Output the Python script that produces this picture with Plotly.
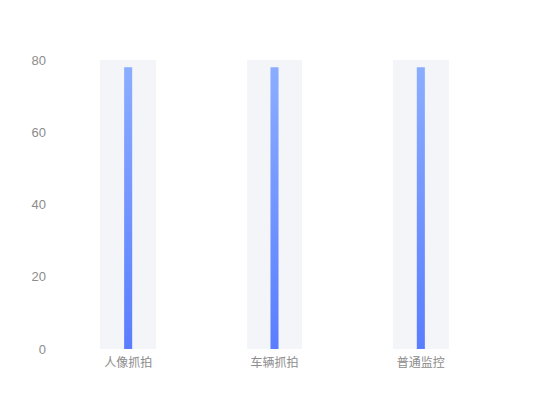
import plotly.graph_objects as go

categories = ['人像抓拍', '车辆抓拍', '普通监控']
values = [78, 78, 78]
max_value = 80

pos = list(range(len(categories)))
thin = 0.055 / 2

# gradient bars drawn as filled outlines around each value
xs, ys = [], []
for p, v in zip(pos, values):
    xs += [p - thin, p + thin, p + thin, p - thin, p - thin, None]
    ys += [0, 0, v, v, 0, None]

fig = go.Figure()

fig.add_trace(go.Bar(
    x=pos,
    y=[max_value] * len(categories),
    width=0.38,
    marker=dict(color='#f3f5f8', line=dict(width=0)),
    hoverinfo='skip',
    showlegend=False
))

fig.add_trace(go.Scatter(
    x=xs,
    y=ys,
    mode='lines',
    line=dict(width=0, color='rgba(0,0,0,0)'),
    fill='toself',
    fillgradient=dict(
        type='vertical',
        colorscale=[[0, '#5a7dff'], [1, '#8badff']]
    ),
    hoverinfo='skip',
    showlegend=False
))

fig.update_layout(
    width=550,
    height=420,
    margin=dict(l=47, r=64, t=52, b=79),
    paper_bgcolor='white',
    plot_bgcolor='white',
    font=dict(family='Noto Sans CJK SC', size=12, color='#8c8c8c'),
    xaxis=dict(
        range=[-0.5, 2.5],
        tickvals=pos,
        ticktext=categories,
        showgrid=False,
        zeroline=False,
        showline=False,
        ticks='',
        ticklabelstandoff=5,
        tickfont=dict(size=12, color='#8c8c8c')
    ),
    yaxis=dict(
        range=[0, max_value],
        tickvals=[0, 20, 40, 60, 80],
        showgrid=False,
        zeroline=False,
        showline=False,
        ticks='',
        ticklabelstandoff=8,
        tickfont=dict(size=13, color='#8c8c8c', family='Liberation Sans')
    ),
    bargap=0,
    showlegend=False
)

fig.write_html('out.html')
